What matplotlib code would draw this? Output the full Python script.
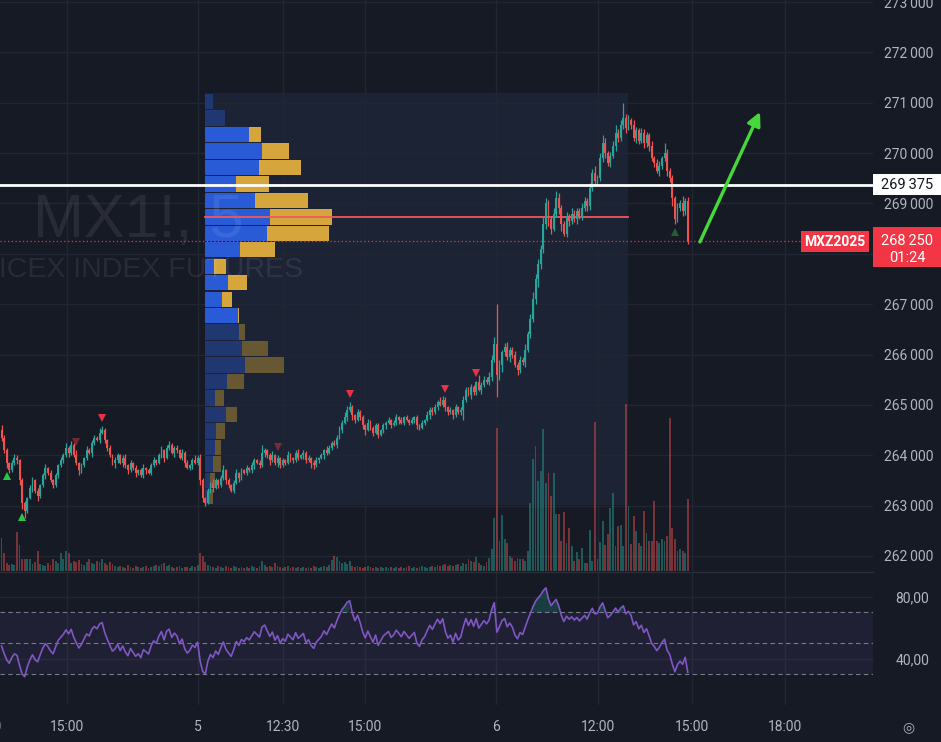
import numpy as np
import pandas as pd
import matplotlib
matplotlib.use("Agg")
import matplotlib.pyplot as plt
import matplotlib.transforms as mtransforms
from matplotlib.patches import Rectangle

# MX1! 5-minute chart with session volume profile, volume and RSI(14)

# ---- candle data (one entry per 5 min bar) ----
closes = [
    264350, 264100, 263850, 263700, 263850, 263950, 263900, 263500, 263050, 262900,
    263150, 263350, 263500, 263300, 263200, 263400, 263600, 263750, 263650, 263500,
    263400, 263600, 263800, 263900, 264000, 264150, 264050, 264200, 264000, 263850,
    263700, 263800, 263950, 264100, 264050, 264250, 264350, 264300, 264450, 264500,
    264300, 264150, 264000, 263850, 263900, 264000, 263850, 263950, 263800, 263700,
    263850, 263750, 263650, 263700, 263600, 263750, 263700, 263650, 263800, 263900,
    263850, 264000, 264100, 263950, 264150, 264200, 264050, 264150, 264100, 263950,
    264050, 263850, 263750, 263800, 263900, 263850,
    # day 5
    263950, 263500, 263150, 263050, 263300, 263450, 263350, 263500, 263400, 263550,
    263700, 263500, 263400, 263300, 263450, 263650, 263550, 263700, 263650, 263750,
    263700, 263800, 263900, 263850, 263800, 264050, 264100, 264000, 263900, 264000,
    263850, 263950, 263800, 263900, 263850, 264000, 263950, 263900, 264050, 263950,
    264000, 264050, 263900, 263950, 263850, 263800, 263900, 263950, 264000, 264100,
    264050, 264150, 264250, 264200, 264350, 264500, 264650, 264750, 264900, 264950,
    264800, 264700, 264850, 264750, 264600, 264500, 264650, 264550, 264450, 264600,
    264400, 264500, 264600, 264650, 264700, 264600, 264650, 264750, 264700, 264650,
    264750, 264700, 264650, 264700, 264750, 264600, 264550, 264650, 264700, 264800,
    264900, 264850, 264950, 265050, 265000, 265100, 264950, 264850, 264900, 264800,
    264950, 264850, 264900, 265100, 265300, 265200, 265350, 265250, 265450, 265300,
    265400, 265500, 265450, 265550, 265900, 266200,
    # day 6
    265600, 265800, 266050, 266150, 265950, 266100, 266000, 265800, 265700, 265900,
    265850, 266100, 266400, 266700, 267100, 267500, 267800, 268100, 268600, 269000,
    268700, 268500, 268800, 269100, 268900, 268600, 268400, 268750, 268650, 268800,
    268700, 268850, 268750, 268900, 269050, 268950, 269300, 269600, 269450, 269500,
    269900, 270200, 270000, 269800, 269950, 270150, 270400, 270300, 270550, 270700,
    270500, 270650, 270550, 270300, 270450, 270250, 270400, 270200, 270350, 270150,
    269900, 269800, 269650, 269750, 269900, 270000, 269650, 269500, 269100, 268700,
    268900, 269000, 268850, 269050, 268250,
]
first_open = 264500
# closes of the bars just left of the visible window (RSI warm-up)
earlier_closes = [
    264900, 265100, 264850, 265000, 264700, 264900, 264650, 264800, 264550, 264750,
    264900, 264650, 264800, 264600, 264850, 264700, 264950, 264750, 264600, 264800,
    264650, 264900, 264700, 264550, 264800, 264650, 264850, 264700, 264600, 264500,
]

# wick length above / below the body, in points
wick_hi = [
    100, 50, 50, 25, 50, 75, 50, 25, 50, 50,
    25, 50, 75, 25, 50, 25, 50, 75, 25, 50,
    25, 50, 25, 75, 50, 100, 25, 75, 50, 100,
    25, 50, 25, 75, 50, 50, 50, 25, 100, 75,
    50, 25, 50, 25, 75, 50, 25, 50, 75, 25,
    50, 25, 50, 25, 50, 75, 25, 50, 50, 75,
    25, 50, 75, 25, 50, 75, 50, 25, 50, 25,
    75, 25, 50, 25, 50, 100, 50, 75, 50, 25,
    50, 25, 75, 50, 25, 50, 100, 25, 50, 25,
    50, 75, 25, 50, 25, 50, 25, 75, 50, 25,
    50, 150, 50, 25, 50, 75, 25, 50, 25, 50,
    25, 75, 50, 25, 50, 75, 25, 50, 25, 50,
    25, 50, 75, 25, 50, 25, 75, 50, 25, 50,
    50, 75, 50, 100, 75, 100, 50, 25, 75, 50,
    50, 25, 75, 50, 25, 50, 50, 25, 50, 25,
    50, 25, 50, 75, 25, 50, 25, 50, 25, 50,
    25, 50, 25, 50, 25, 75, 50, 50, 75, 50,
    100, 75, 50, 25, 50, 25, 75, 25, 50, 75,
    50, 50, 75, 50, 25, 150, 50, 75, 50, 100,
    100, 150, 800, 100, 50, 75, 100, 50, 50, 75,
    50, 75, 50, 100, 75, 100, 150, 100, 100, 75,
    150, 100, 75, 50, 100, 150, 100, 75, 50, 75,
    50, 100, 75, 50, 50, 100, 75, 50, 100, 75,
    150, 75, 100, 150, 100, 50, 75, 100, 150, 75,
    100, 300, 75, 100, 50, 100, 75, 50, 100, 75,
    75, 50, 100, 50, 75, 100, 50, 200, 75, 50,
    75, 50, 100, 75, 150, 50, 75,
]
wick_lo = [
    75, 50, 100, 50, 25, 50, 75, 100, 125, 150,
    50, 25, 75, 50, 100, 50, 25, 75, 50, 25,
    50, 25, 50, 25, 50, 25, 75, 50, 25, 50,
    100, 50, 25, 50, 25, 75, 50, 25, 50, 25,
    50, 75, 25, 50, 100, 50, 25, 75, 50, 75,
    25, 50, 75, 50, 25, 50, 75, 25, 50, 25,
    50, 25, 50, 75, 25, 50, 25, 75, 50, 25,
    50, 75, 25, 50, 75, 25, 50, 100, 75, 50,
    25, 50, 75, 25, 50, 25, 50, 75, 50, 25,
    50, 25, 75, 50, 25, 50, 25, 50, 75, 25,
    50, 25, 75, 50, 100, 25, 50, 75, 50, 25,
    50, 25, 75, 50, 25, 50, 25, 75, 50, 25,
    100, 75, 25, 50, 25, 75, 50, 25, 50, 25,
    50, 25, 50, 25, 75, 50, 100, 50, 25, 50,
    75, 100, 25, 50, 75, 25, 50, 25, 50, 75,
    25, 50, 25, 50, 75, 25, 50, 25, 50, 25,
    50, 75, 50, 25, 50, 25, 75, 50, 25, 50,
    25, 50, 75, 50, 25, 75, 50, 25, 50, 200,
    50, 25, 75, 50, 50, 25, 75, 50, 25, 50,
    75, 50, 450, 100, 150, 75, 50, 100, 75, 50,
    100, 75, 50, 100, 50, 75, 50, 100, 150, 100,
    75, 100, 150, 100, 50, 75, 100, 150, 50, 75,
    100, 50, 75, 100, 50, 75, 50, 100, 75, 50,
    100, 75, 50, 75, 100, 50, 75, 50, 100, 75,
    50, 75, 100, 50, 75, 50, 100, 75, 50, 100,
    75, 100, 50, 75, 50, 100, 75, 50, 100, 75,
    150, 100, 75, 50, 100, 75, 50,
]
volumes = [
    33, 18, 8, 6, 7, 6, 39, 26, 12, 12,
    12, 12, 7, 9, 20, 7, 6, 5, 8, 6,
    12, 10, 8, 18, 12, 20, 18, 8, 10, 9,
    11, 7, 6, 9, 12, 8, 7, 10, 9, 12,
    8, 6, 9, 7, 5, 4, 5, 4, 3, 6,
    4, 3, 5, 4, 3, 4, 5, 3, 4, 5,
    6, 5, 7, 8, 5, 6, 4, 3, 4, 5,
    3, 4, 4, 3, 5, 4, 6, 18, 15, 9,
    6, 5, 4, 3, 5, 4, 3, 5, 4, 3,
    5, 4, 3, 4, 3, 4, 3, 5, 4, 3,
    5, 10, 6, 4, 5, 4, 8, 5, 4, 3,
    4, 5, 3, 4, 3, 4, 3, 4, 3, 4,
    3, 5, 4, 3, 4, 5, 4, 6, 11, 15,
    14, 10, 8, 9, 7, 10, 5, 4, 5, 4,
    3, 4, 5, 4, 3, 4, 3, 4, 3, 4,
    3, 4, 3, 4, 3, 4, 3, 4, 5, 3,
    4, 3, 4, 5, 4, 3, 4, 5, 4, 6,
    5, 6, 7, 5, 6, 5, 6, 7, 5, 8,
    7, 12, 10, 9, 14, 8, 6, 5, 9, 13,
    22, 53, 143, 30, 56, 32, 28, 15, 13, 10,
    13, 12, 12, 10, 20, 68, 112, 125, 90, 100,
    142, 88, 98, 75, 98, 57, 57, 30, 59, 28,
    43, 25, 10, 19, 12, 23, 8, 8, 41, 10,
    149, 12, 29, 50, 26, 37, 63, 78, 25, 45,
    46, 25, 167, 65, 27, 55, 40, 28, 25, 60,
    38, 30, 30, 70, 30, 28, 32, 30, 35, 153,
    43, 32, 20, 22, 20, 18, 72,
]

# signal markers (bar index)
sell_bars = [29, 39, 107, 135, 172, 184]
sell_faded = [29, 107]
buy_bars = [2, 8, 261]
buy_faded = [261]

# session volume profile (rows listed top -> bottom)
vp_high, vp_low = 271186, 263012
vp_first_bar, vp_last_bar = 78.8, 242.8
vp_up = [8, 20, 44, 56, 53, 31, 49, 64, 61, 35, 9, 23, 17, 33, 34, 37, 40, 22, 10, 21, 11, 10, 8, 5, 3]
vp_down = [0, 0, 11, 27, 42, 32, 53, 61, 61, 34, 12, 19, 10, 1, 6, 25, 38, 17, 9, 11, 9, 6, 8, 5, 5]
va_rows = (2, 13)

level_line = 269375
last_price = 268250
countdown = "01:24"
arrow_from = (270.7, 268236)
arrow_to = (294.0, 270818)

price_ticks = list(range(262000, 274000, 1000))
time_ticks = [-6.4, 25.4, 76.2, 109.1, 140.9, 191.7, 231.2, 267.6, 303.7]
time_labels = ["12:30", "15:00", "5", "12:30", "15:00", "6", "12:00", "15:00", "18:00"]

# ---- style ----
BG = "#161a25"
GRID = "#222632"
TXT = "#b2b5be"
UP = "#26a69a"
DOWN = "#ef5350"
plt.rcParams["font.family"] = ["Roboto", "DejaVu Sans"]

closes = np.array(closes, dtype=float)
n = len(closes)
opens = np.concatenate([[first_open], closes[:-1]])
highs = np.maximum(opens, closes) + np.array(wick_hi)
lows = np.minimum(opens, closes) - np.array(wick_lo)
x = np.arange(n)
is_up = closes >= opens
colors = np.where(is_up, UP, DOWN)

W, H = 941, 742
fig = plt.figure(figsize=(W / 100, H / 100), dpi=100, facecolor=BG)


def px_axes(x0, y0, x1, y1):
    return fig.add_axes([x0 / W, 1 - y1 / H, (x1 - x0) / W, (y1 - y0) / H])


ax = px_axes(0, 0, 873, 571)
axr = px_axes(0, 572, 873, 705)
xlim = (-1.5 / 2.58, (873 - 1.5) / 2.58)

# volume overlay lives on a twin axis (created first so it doesn't move the price axis)
axv = ax.twinx()

# ---- main pane ----
ax.set_facecolor(BG)
ax.set_xlim(*xlim)
ax.set_ylim(261702, 273040)
ax.set_axisbelow(True)
for s in ax.spines.values():
    s.set_visible(False)
ax.yaxis.tick_right()
ax.set_yticks(price_ticks)
# the tick under the last-price label is not drawn
ax.set_yticklabels(["" if abs(p - last_price) < 500 else f"{p // 1000}\u2009{p % 1000:03d}"
                    for p in price_ticks])
ax.set_xticks(time_ticks)
ax.tick_params(axis="y", length=0, pad=8, labelsize=10, labelcolor=TXT)
ax.tick_params(axis="x", length=0, labelbottom=False)
ax.grid(color=GRID, lw=1)

# volume profile
n_rows = len(vp_up)
row_h = (vp_high - vp_low) / n_rows
centers = vp_high - row_h * (np.arange(n_rows) + 0.5)
up_v = np.array(vp_up, dtype=float)
dn_v = np.array(vp_down, dtype=float)
tot = up_v + dn_v
scale = 0.3 * (vp_last_bar - vp_first_bar) / tot.max()
in_va = (np.arange(n_rows) >= va_rows[0]) & (np.arange(n_rows) <= va_rows[1])
ax.add_patch(Rectangle((vp_first_bar, vp_low), vp_last_bar - vp_first_bar, vp_high - vp_low,
                       facecolor="#1c2334", edgecolor="none", zorder=0.2))
ax.barh(centers, up_v * scale, left=vp_first_bar, height=row_h * 0.93,
        color=np.where(in_va, "#2a5bd7", "#213771"), zorder=1)
ax.barh(centers, dn_v * scale, left=vp_first_bar + up_v * scale, height=row_h * 0.93,
        color=np.where(in_va, "#d6a63c", "#675833"), zorder=1)
poc = centers[np.argmax(tot)]
ax.plot([vp_first_bar, vp_last_bar], [poc, poc], color="#f0585a", lw=1.3, zorder=2)

# watermark
ax.text(12.2, 268335, "MX1!, 5", fontsize=44, family="Liberation Sans",
        color="white", alpha=0.08, va="baseline", zorder=1.5)
ax.text(116.9, 267541, "MICEX INDEX FUTURES", fontsize=20.5, family="Liberation Sans",
        color="white", alpha=0.08, va="baseline", ha="right", zorder=1.5)

# candles
ax.vlines(x, lows, highs, colors=colors, lw=0.9, zorder=3)
ax.bar(x, np.maximum(np.abs(closes - opens), 18), bottom=np.minimum(opens, closes),
       width=0.72, color=colors, zorder=4)

# signal markers
for b in sell_bars:
    ax.plot(b, highs[b] + 160, marker="v", ms=6, color="#f23645", mew=0,
            alpha=0.45 if b in sell_faded else 0.95, zorder=5)
for b in buy_bars:
    ax.plot(b, lows[b] - 160, marker="^", ms=6, color="#2bd14a" if b not in buy_faded else "#2e8b3a",
            mew=0, alpha=0.6 if b in buy_faded else 0.95, zorder=5)

# horizontal level + last price
ax.axhline(level_line, color="white", lw=2, zorder=6)
ax.axhline(last_price, xmax=800 / 873, color="#f23645", lw=0.9, ls=(0, (1, 2)), zorder=2)

bt = mtransforms.blended_transform_factory(ax.transAxes, ax.transData)
ppx = (273040 - 261702) / 571  # price units per pixel
ax.add_patch(Rectangle((1.0, level_line - 10.5 * ppx), 68 / 873, 21 * ppx, transform=bt,
                       facecolor="white", edgecolor="none", clip_on=False, zorder=7))
ax.text(907 / 873, level_line, "269\u2009375", transform=bt, ha="center", va="center",
        fontsize=10.5, color="#131722", clip_on=False, zorder=8)
ax.add_patch(Rectangle((1.0, last_price - 26 * ppx), 68 / 873, 40 * ppx, transform=bt,
                       facecolor="#f23645", edgecolor="none", clip_on=False, zorder=7))
ax.text(907 / 873, last_price, f"{last_price // 1000}\u2009{last_price % 1000:03d}",
        transform=bt, ha="center", va="center", fontsize=10.5, color="white",
        clip_on=False, zorder=8)
ax.text(907 / 873, last_price - 17 * ppx, countdown, transform=bt, ha="center", va="center",
        fontsize=10.5, color="white", clip_on=False, zorder=8)
ax.add_patch(Rectangle((801 / 873, last_price - 11 * ppx), 68 / 873, 21 * ppx, transform=bt,
                       facecolor="#f23645", edgecolor="none", clip_on=False, zorder=7))
ax.text(835 / 873, last_price - 0.5 * ppx, "MXZ2025", transform=bt, ha="center", va="center",
        fontsize=10, fontweight="bold", color="white", zorder=8)

# drawn arrow
ax.annotate("", xy=arrow_to, xytext=arrow_from,
            arrowprops=dict(arrowstyle="-|>", color="#45d83a", lw=2.4, mutation_scale=20,
                            shrinkA=0, shrinkB=0), zorder=6)

# volume bars
axv.set_xlim(*xlim)
axv.set_ylim(0, max(volumes) * 3.42)
axv.bar(x, volumes, width=0.72, color=colors, alpha=0.45)
axv.set_axis_off()

# ---- RSI pane ----
all_closes = pd.Series(np.concatenate([earlier_closes, closes]))
delta = all_closes.diff()
gain = delta.clip(lower=0).ewm(alpha=1 / 14, adjust=False).mean()
loss = (-delta.clip(upper=0)).ewm(alpha=1 / 14, adjust=False).mean()
rsi = (100 - 100 / (1 + gain / loss)).to_numpy()[-n:]

axr.set_facecolor(BG)
axr.set_xlim(*xlim)
axr.set_ylim(10.3, 96.1)
axr.set_axisbelow(True)
for s in axr.spines.values():
    s.set_visible(False)
axr.axhspan(30, 70, color="#7e57c2", alpha=0.1, lw=0)
for lvl in (70, 50, 30):
    axr.axhline(lvl, color="#787b86", lw=0.8, ls=(0, (4, 3)))
axr.plot(x, rsi, color="#7e57c2", lw=1.2)
axr.fill_between(x, 70, rsi, where=rsi > 70, color="#26a69a", alpha=0.25, lw=0)
axr.yaxis.tick_right()
axr.set_yticks([40, 80])
axr.set_yticklabels(["40,00", "80,00"])
axr.set_xticks(time_ticks[1:])
axr.set_xticklabels(time_labels[1:])
axr.tick_params(axis="y", length=0, pad=16, labelsize=10, labelcolor=TXT)
axr.tick_params(axis="x", length=0, pad=11, labelsize=10, labelcolor=TXT)
axr.grid(color=GRID, lw=1)
# first time label sits half outside the left edge
axr.text(time_ticks[0], -0.165, time_labels[0],
         transform=mtransforms.blended_transform_factory(axr.transData, axr.transAxes),
         ha="center", va="center", fontsize=10, color=TXT, clip_on=False)

fig.add_artist(plt.Line2D([0, 873 / W], [1 - 571.5 / H] * 2, color="#2a2e39", lw=1,
                          transform=fig.transFigure))
fig.text(908 / W, 1 - 727 / H, "\u25ce", ha="center", va="center", fontsize=10, color=TXT,
         family="DejaVu Sans")

fig.savefig("out.png", dpi=100, facecolor=BG)
